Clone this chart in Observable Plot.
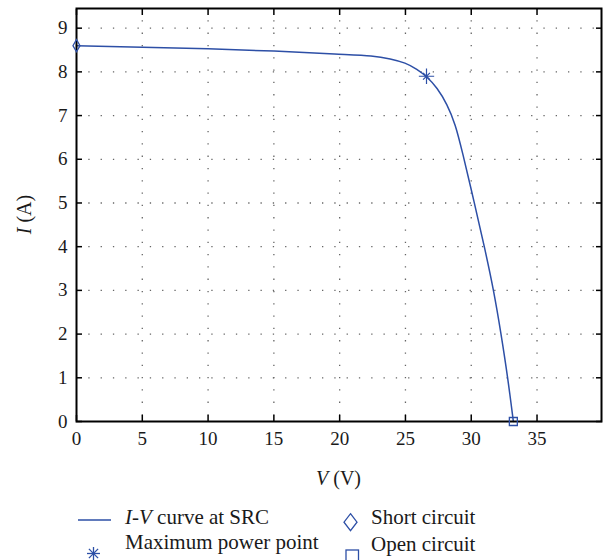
<!DOCTYPE html>
<html><head><meta charset="utf-8">
<script src="https://cdn.jsdelivr.net/npm/d3@7"></script>
<script src="https://cdn.jsdelivr.net/npm/@observablehq/plot@0.6"></script>
<style>
body{margin:0;background:#fff;font-family:"Liberation Serif","Times New Roman",serif;}
#wrap{position:relative;width:604px;height:560px;overflow:hidden;}
#legend{position:absolute;left:0;top:490px;width:604px;height:70px;font-size:21px;color:#1a1a1a;}
.lab{position:absolute;white-space:nowrap;line-height:21px;}
.sw{position:absolute;overflow:visible;}
</style></head><body>
<div id="wrap"><div id="chart"></div><div id="legend"></div></div>
<script>
// I-V curve
const voltage = [0, 5, 10, 15, 20, 22.6, 23.86, 25, 25.89, 26.6, 27.41, 28.17, 28.8, 29.31, 30.24, 31.0, 31.71, 32.27, 32.78, 33.2];
const current = [8.60, 8.565, 8.53, 8.48, 8.40, 8.37, 8.30, 8.21, 8.06, 7.90, 7.64, 7.26, 6.80, 6.19, 5.0, 4.0, 3.0, 2.0, 1.0, 0];
const shortCircuit = [{v: 0, i: 8.6}];
const maxPowerPoint = [{v: 26.6, i: 7.9}];
const openCircuit = [{v: 33.2, i: 0}];
const xTicks = [0, 5, 10, 15, 20, 25, 30, 35];
const yTicks = [0, 1, 2, 3, 4, 5, 6, 7, 8, 9];
const xGrid = [5, 10, 15, 20, 25, 30, 35];
const yGrid = [1, 2, 3, 4, 5, 6, 7, 8, 9];
const xLabel = ["V", " (V)"];
const yLabel = ["I", " (A)"];
const legendItems = ["I-V curve at SRC", "Maximum power point", "Short circuit", "Open circuit"];

const blue = "#2d4fa6";
const serif = "'Liberation Serif', 'Times New Roman', serif";
const curve = voltage.map((v, k) => ({v, i: current[k]}));
const grid = {stroke: "#666", strokeOpacity: 1, strokeWidth: 1.3, strokeDasharray: "1.3,11"};

const plot = Plot.plot({
  width: 604, height: 490,
  marginTop: 8, marginBottom: 69, marginLeft: 76, marginRight: 3,
  style: {fontFamily: serif, fontSize: "19px", color: "#1a1a1a", background: "#fff"},
  x: {domain: [0, 39.9]},
  y: {domain: [0, 9.45]},
  marks: [
    Plot.gridX(xGrid, grid),
    Plot.gridY(yGrid, grid),
    Plot.line(curve, {x: "v", y: "i", stroke: blue, strokeWidth: 1.5, curve: "basis"}),
    Plot.frame({stroke: "#000", strokeWidth: 2}),
    Plot.axisX(xTicks, {anchor: "bottom", tickSize: 6, dy: -6, tickFormat: () => "", label: null, stroke: "#000", strokeWidth: 1.5}),
    Plot.axisX(xTicks, {anchor: "top", tickSize: 6, dy: 6, tickFormat: () => "", label: null, stroke: "#000", strokeWidth: 1.5}),
    Plot.axisY(yTicks, {anchor: "left", tickSize: 6, dx: 6, tickFormat: () => "", label: null, stroke: "#000", strokeWidth: 1.5}),
    Plot.axisY(yTicks, {anchor: "right", tickSize: 6, dx: -6, tickFormat: () => "", label: null, stroke: "#000", strokeWidth: 1.5}),
    Plot.axisX(xTicks, {anchor: "bottom", tickSize: 0, tickPadding: 10, label: null}),
    Plot.axisY(yTicks, {anchor: "left", tickSize: 0, tickPadding: 9, label: null}),
    Plot.dot(shortCircuit, {x: "v", y: "i", symbol: "diamond", r: 3.7, stroke: blue, fill: "none", strokeWidth: 1.3}),
    Plot.dot(openCircuit, {x: "v", y: "i", symbol: "square", r: 4.5, stroke: blue, fill: "none", strokeWidth: 1.3}),
    Plot.dot(maxPowerPoint, {x: "v", y: "i", symbol: "plus", r: 5, stroke: blue, strokeWidth: 1.2}),
    Plot.dot(maxPowerPoint, {x: "v", y: "i", symbol: "times", r: 3.2, stroke: blue, strokeWidth: 1.2})
  ]
});
document.getElementById("chart").appendChild(plot);

// axis titles with italic variable names
const sx = plot.scale("x"), sy = plot.scale("y");
const svg = d3.select(plot);
const cx = (sx.apply(0) + sx.apply(39.9)) / 2;
const cy = (sy.apply(0) + sy.apply(9.45)) / 2;
const tx = svg.append("text").attr("x", cx).attr("y", 485).attr("text-anchor", "middle")
  .attr("font-size", 20).attr("font-family", serif).attr("fill", "#1a1a1a");
tx.append("tspan").attr("font-style", "italic").text(xLabel[0]);
tx.append("tspan").text(xLabel[1]);
const ty = svg.append("text").attr("transform", `translate(31,${cy}) rotate(-90)`).attr("text-anchor", "middle")
  .attr("font-size", 20).attr("font-family", serif).attr("fill", "#1a1a1a");
ty.append("tspan").attr("font-style", "italic").text(yLabel[0]);
ty.append("tspan").text(yLabel[1]);

// legend
const legend = document.getElementById("legend");
function addLabel(html, left, baseline) {
  const d = document.createElement("div");
  d.className = "lab";
  d.style.left = left + "px";
  d.style.top = (baseline - 490 - 17.6) + "px";
  d.innerHTML = html;
  legend.appendChild(d);
}
function addSwatch(svgInner, left, top, w, h) {
  const s = document.createElementNS("http://www.w3.org/2000/svg", "svg");
  s.setAttribute("class", "sw");
  s.setAttribute("width", w); s.setAttribute("height", h);
  s.style.left = left + "px"; s.style.top = (top - 490) + "px";
  s.innerHTML = svgInner;
  legend.appendChild(s);
}
const t0 = legendItems[0].split("-");
addLabel(`<i>${t0[0]}</i>-<i>${t0[1].split(" ")[0]}</i>${t0[1].slice(1)}`, 125, 524.5);
addLabel(legendItems[1], 125, 549.5);
addLabel(legendItems[2], 371, 524.5);
addLabel(legendItems[3], 371, 552);
addSwatch(`<line x1="0" y1="3" x2="33" y2="3" stroke="${blue}" stroke-width="1.5"/>`, 78, 517, 33, 6);
addSwatch(`<g stroke="${blue}" stroke-width="1.3" transform="translate(7.5,7.5)">
  <line x1="-6.5" y1="0" x2="6.5" y2="0"/><line x1="0" y1="-6.5" x2="0" y2="6.5"/>
  <line x1="-4.6" y1="-4.6" x2="4.6" y2="4.6"/><line x1="-4.6" y1="4.6" x2="4.6" y2="-4.6"/></g>`, 85.5, 545.5, 15, 15);
addSwatch(`<polygon points="7.5,0.7 14,9.2 7.5,17.7 1,9.2" fill="none" stroke="${blue}" stroke-width="1.3"/>`, 342.5, 512.5, 15, 18.5);
addSwatch(`<rect x="1" y="1" width="12.5" height="12.5" fill="none" stroke="${blue}" stroke-width="1.3"/>`, 344.5, 549, 15, 15);
</script>
</body></html>
